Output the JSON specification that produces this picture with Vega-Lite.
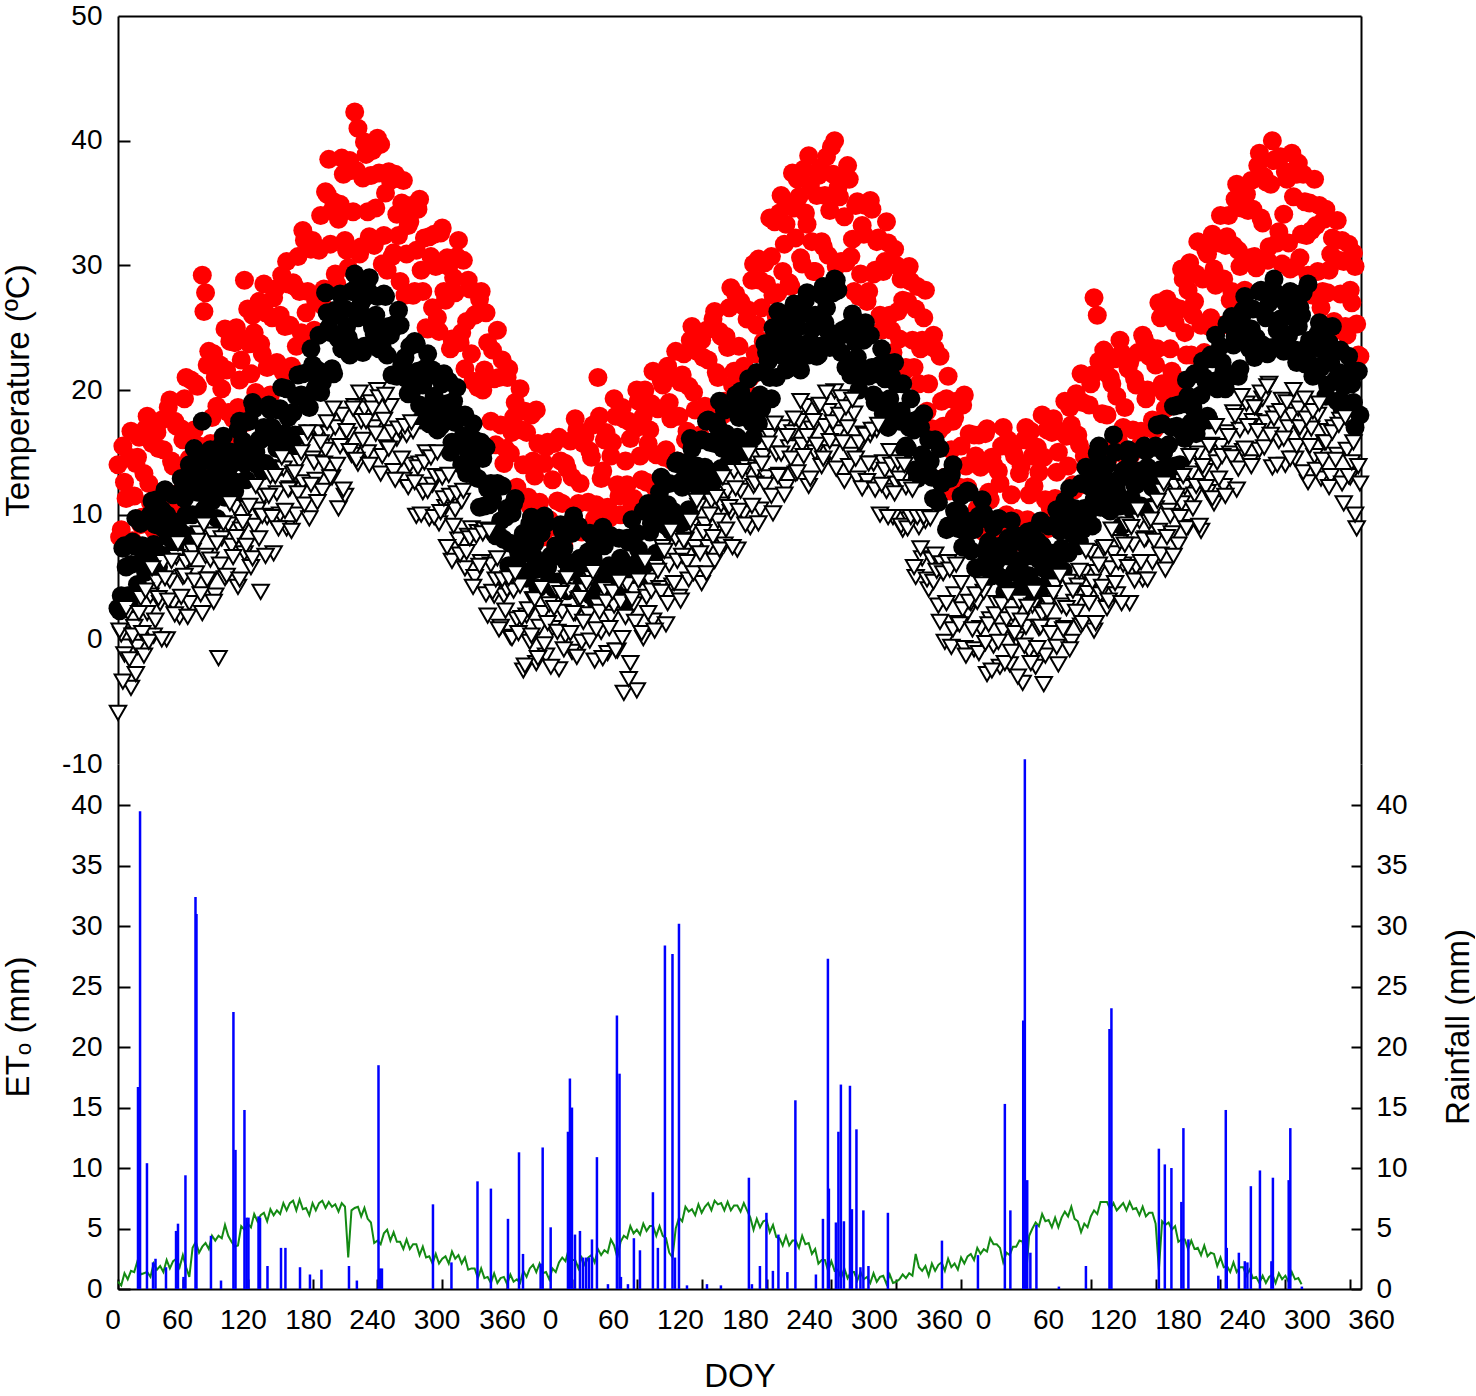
{
  "$schema": "https://vega.github.io/schema/vega-lite/v6.json",
  "padding": {"left": 2, "top": 2, "right": 0, "bottom": 0},
  "bounds": "flush",
  "spacing": 0,
  "config": {
    "view": {"stroke": null},
    "font": "Liberation Sans",
    "axis": {
      "grid": false,
      "domainColor": "black",
      "domainWidth": 2,
      "tickColor": "black",
      "tickWidth": 2,
      "labelColor": "black",
      "labelFont": "Liberation Sans",
      "labelFontSize": 28,
      "titleColor": "black",
      "titleFont": "Liberation Sans",
      "titleFontSize": 33,
      "titleFontWeight": "normal"
    }
  },
  "datasets": {
    "temp": [
      {"d":0,"x":14,"m":2.5,"n":-5.9,"e":0.6},{"d":3,"x":8.8,"m":3.5,"n":0.4,"e":0.3},{"d":6,"x":12.6,"m":7.5,"n":-1.2,"e":1.3},{"d":9,"x":7.9,"m":3.5,"n":2.2,"e":0.8},
      {"d":12,"x":16.7,"m":6,"n":-3.9,"e":1.5},{"d":15,"x":11.5,"m":7.5,"n":1,"e":1.4},{"d":18,"x":14.6,"m":4.4,"n":-0.6,"e":2.3},{"d":21,"x":9.2,"m":9.3,"n":3.3,"e":1.2},
      {"d":24,"x":13.3,"m":7.2,"n":-1.3,"e":1.3},{"d":27,"x":17.9,"m":6.6,"n":2.1,"e":1.4},{"d":30,"x":11,"m":10,"n":3.5,"e":1.0},{"d":33,"x":8.8,"m":7.6,"n":0.3,"e":2.1},
      {"d":36,"x":16.6,"m":11.2,"n":4.6,"e":1.6},{"d":39,"x":11.4,"m":6.8,"n":2.9,"e":1.9},{"d":42,"x":15.2,"m":8.9,"n":6.2,"e":1.4},{"d":45,"x":10.5,"m":10,"n":0,"e":2.4},
      {"d":48,"x":19.2,"m":6.8,"n":4.7,"e":1.7},{"d":51,"x":13.9,"m":11.6,"n":2.9,"e":2.3},{"d":54,"x":17.1,"m":9.4,"n":6.6,"e":2.5},{"d":57,"x":11.8,"m":8.7,"n":1.8,"e":1.8},
      {"d":60,"x":16,"m":12,"n":5,"e":2.8},{"d":63,"x":21,"m":10,"n":6.2,"e":1.8},{"d":66,"x":14.5,"m":14,"n":2.9,"e":1.0},{"d":69,"x":12.5,"m":10,"n":7.1,"e":3.4},
      {"d":72,"x":20.5,"m":12.5,"n":5.3,"e":3.9},{"d":75,"x":15.5,"m":14,"n":8.5,"e":3.0},{"d":78,"x":29.2,"m":17.5,"n":2.1,"e":3.5},{"d":81,"x":27.8,"m":14.8,"n":6.7,"e":3.8},
      {"d":84,"x":23.1,"m":12.2,"n":4.8,"e":3.3},{"d":87,"x":17.8,"m":11.1,"n":8.4,"e":4.4},{"d":90,"x":21,"m":14,"n":3.5,"e":4.0},{"d":93,"x":15.8,"m":11.8,"n":-1.5,"e":4.4},
      {"d":96,"x":20.1,"m":15.6,"n":8.1,"e":4.2},{"d":99,"x":24.9,"m":11.4,"n":4.9,"e":5.3},{"d":102,"x":18.2,"m":13.7,"n":9.2,"e":4.4},{"d":105,"x":16,"m":15,"n":7.5,"e":3.9},
      {"d":108,"x":23.8,"m":11.9,"n":10.6,"e":3.5},{"d":111,"x":18.6,"m":16.8,"n":4.2,"e":3.6},{"d":114,"x":22.4,"m":14.7,"n":8.8,"e":5.2},{"d":117,"x":28.8,"m":14.1,"n":6.9,"e":4.9},
      {"d":120,"x":26.5,"m":17.5,"n":10.5,"e":5.4},{"d":123,"x":21.3,"m":15,"n":5.8,"e":5.1},{"d":126,"x":24.6,"m":18.5,"n":9.1,"e":6.2},{"d":129,"x":19.4,"m":14,"n":10.4,"e":5.6},
      {"d":132,"x":23.7,"m":16,"n":3.8,"e":6.1},{"d":135,"x":28.5,"m":17,"n":11.5,"e":6.3},{"d":138,"x":21.8,"m":13.7,"n":9.8,"e":5.6},{"d":141,"x":19.6,"m":18.4,"n":13.1,"e":6.6},
      {"d":144,"x":27.4,"m":16.1,"n":6.9,"e":6.1},{"d":147,"x":22.2,"m":15.3,"n":11.7,"e":6.5},{"d":150,"x":26,"m":18.5,"n":10,"e":6.2},{"d":153,"x":21.4,"m":16.3,"n":13.7,"e":7.1},
      {"d":156,"x":30.3,"m":20.1,"n":8.9,"e":6.5},{"d":159,"x":25.2,"m":15.9,"n":12.1,"e":7.1},{"d":162,"x":28.6,"m":18.2,"n":13.3,"e":7.3},{"d":165,"x":23.5,"m":19.5,"n":10,"e":6.5},
      {"d":168,"x":27.9,"m":16.4,"n":14.3,"e":7.4},{"d":171,"x":32.8,"m":21.3,"n":12.6,"e":6.6},{"d":174,"x":26.2,"m":19.2,"n":15.9,"e":6.7},{"d":177,"x":24.1,"m":18.6,"n":9.7,"e":6.1},
      {"d":180,"x":32,"m":22,"n":14.5,"e":7.1},{"d":183,"x":27.1,"m":20.2,"n":12.8,"e":6.5},{"d":186,"x":31.2,"m":24.4,"n":16.6,"e":7.1},{"d":189,"x":26.8,"m":20.6,"n":11.9,"e":7.3},
      {"d":192,"x":35.9,"m":27.8,"n":15.2,"e":6.7},{"d":195,"x":38.5,"m":25,"n":16.5,"e":7.2},{"d":198,"x":34.4,"m":21.7,"n":13,"e":6.8},{"d":201,"x":29.3,"m":26.4,"n":17,"e":7.0},
      {"d":204,"x":33.7,"m":24.1,"n":10.5,"e":6.4},{"d":207,"x":38.6,"m":23.3,"n":18,"e":7.1},{"d":210,"x":32,"m":26.5,"n":11.5,"e":6.8},{"d":213,"x":29.8,"m":24.2,"n":16.4,"e":2.6},
      {"d":216,"x":37.6,"m":27.9,"n":14.8,"e":6.5},{"d":219,"x":42.3,"m":29.3,"n":18.7,"e":6.7},{"d":222,"x":41,"m":25.8,"n":14.1,"e":6.8},{"d":225,"x":31.5,"m":27,"n":17.5,"e":6.0},
      {"d":228,"x":39.9,"m":23.5,"n":18.5,"e":6.7},{"d":231,"x":34.3,"m":28,"n":15,"e":5.8},{"d":234,"x":37.2,"m":25.5,"n":19,"e":5.5},{"d":237,"x":31.6,"m":24.5,"n":17,"e":3.8},
      {"d":240,"x":40.2,"m":27.5,"n":20,"e":4.0},{"d":243,"x":39.7,"m":24.6,"n":13.3,"e":3.7},{"d":246,"x":32.4,"m":27.7,"n":17.6,"e":4.6},{"d":249,"x":29.6,"m":22.8,"n":15.4,"e":4.9},
      {"d":252,"x":36.8,"m":24.4,"n":18.7,"e":4.0},{"d":255,"x":31,"m":25,"n":13.5,"e":4.7},{"d":258,"x":34.1,"m":21.1,"n":16.1,"e":3.9},{"d":261,"x":28.7,"m":25.2,"n":16.7,"e":3.9},
      {"d":264,"x":36.8,"m":22.3,"n":12.8,"e":3.3},{"d":267,"x":30.9,"m":20.9,"n":16.4,"e":4.1},{"d":270,"x":33.5,"m":23.5,"n":14,"e":3.3},{"d":273,"x":27.6,"m":20.6,"n":16.7,"e":3.7},
      {"d":276,"x":31.2,"m":23.7,"n":9.9,"e":3.7},{"d":279,"x":35.3,"m":18.8,"n":14.1,"e":2.8},{"d":282,"x":27.9,"m":20.4,"n":11.8,"e":3.5},{"d":285,"x":25,"m":21,"n":15,"e":2.6},
      {"d":288,"x":32.3,"m":17.3,"n":9.7,"e":2.7},{"d":291,"x":26.6,"m":21.6,"n":12.4,"e":2.1},{"d":294,"x":29.9,"m":18.9,"n":13.1,"e":2.9},{"d":297,"x":24.7,"m":17.7,"n":9.3,"e":2.1},
      {"d":300,"x":33,"m":20.5,"n":13,"e":2.5},{"d":303,"x":27.2,"m":17.6,"n":10.6,"e":2.7},{"d":306,"x":29.9,"m":20.7,"n":13.2,"e":2.1},{"d":309,"x":24.1,"m":15.8,"n":6.3,"e":3.1},
      {"d":312,"x":27.8,"m":17.4,"n":10.4,"e":2.5},{"d":315,"x":32,"m":18,"n":8,"e":2.8},{"d":318,"x":24.6,"m":14,"n":11.1,"e":2.1},{"d":321,"x":21.7,"m":18,"n":5.7,"e":2.6},
      {"d":324,"x":28.8,"m":15,"n":8.3,"e":1.6},{"d":327,"x":22.9,"m":13.5,"n":8.9,"e":1.7},{"d":330,"x":26,"m":16,"n":5,"e":1.7},{"d":333,"x":20.2,"m":12.9,"n":8.6,"e":0.9},
      {"d":336,"x":27.9,"m":15.8,"n":6.2,"e":1.7},{"d":339,"x":21.6,"m":10.7,"n":8.8,"e":0.9},{"d":342,"x":23.8,"m":12.1,"n":1.9,"e":1.0},{"d":345,"x":17.5,"m":12.5,"n":6,"e":0.5},
      {"d":348,"x":20.9,"m":8.5,"n":3.5,"e":1.3},{"d":351,"x":24.8,"m":12.5,"n":6.5,"e":0.5},{"d":354,"x":17.2,"m":9.5,"n":1,"e":0.9},{"d":357,"x":14.1,"m":8,"n":3.5,"e":1.0},
      {"d":360,"x":21,"m":10.5,"n":4,"e":0.4},{"d":363,"x":14.9,"m":7.7,"n":0.2,"e":1.2},{"d":366,"x":17.8,"m":10.9,"n":3.9,"e":0.6},{"d":369,"x":12.2,"m":6.1,"n":1.6,"e":0.8},
      {"d":372,"x":20.1,"m":7.8,"n":4.3,"e":0.5},{"d":375,"x":14,"m":8.5,"n":-2.5,"e":1.5},{"d":378,"x":16.6,"m":4.9,"n":1.9,"e":1.0},{"d":381,"x":10.7,"m":9.3,"n":-0.2,"e":1.7},
      {"d":384,"x":14.3,"m":6.7,"n":3.2,"e":2.0},{"d":387,"x":18.4,"m":5.6,"n":-1.9,"e":1.4},{"d":390,"x":11,"m":8.5,"n":1,"e":2.1},{"d":393,"x":8.2,"m":5.9,"n":2.1,"e":1.3},
      {"d":396,"x":15.4,"m":9.3,"n":-1.3,"e":1.4},{"d":399,"x":9.6,"m":4.7,"n":2.8,"e":0.8},{"d":402,"x":12.8,"m":6.6,"n":0.9,"e":1.7},{"d":405,"x":7.5,"m":7.5,"n":4,"e":1.4},
      {"d":408,"x":16.2,"m":4.1,"n":-2.4,"e":2.2},{"d":411,"x":10.9,"m":8.7,"n":2.2,"e":2.6},{"d":414,"x":14.1,"m":6.3,"n":0.3,"e":2.3},{"d":417,"x":8.8,"m":5.4,"n":3.9,"e":3.3},
      {"d":420,"x":13,"m":8.5,"n":-1,"e":2.4},{"d":423,"x":17.7,"m":5.8,"n":2.1,"e":2.4},{"d":426,"x":10.9,"m":9.1,"n":3.2,"e":1.7},{"d":429,"x":8.6,"m":4.4,"n":-0.2,"e":2.6},
      {"d":432,"x":16.3,"m":6.2,"n":3.9,"e":2.0},{"d":435,"x":11,"m":7,"n":2,"e":2.6},{"d":438,"x":14.6,"m":3.5,"n":4.9,"e":2.8},{"d":441,"x":9.7,"m":8,"n":-1.7,"e":2.2},
      {"d":444,"x":21,"m":5.5,"n":2.7,"e":3.3},{"d":447,"x":12.9,"m":4.5,"n":0.6,"e":2.8},{"d":450,"x":16,"m":7.5,"n":4,"e":3.2},{"d":453,"x":10.6,"m":4.9,"n":-1.1,"e":3.0},
      {"d":456,"x":14.7,"m":8.3,"n":1.8,"e":4.1},{"d":459,"x":19.3,"m":3.7,"n":2.7,"e":3.6},{"d":462,"x":12.4,"m":5.6,"n":-0.9,"e":2.6},{"d":465,"x":10,"m":6.5,"n":3,"e":3.9},
      {"d":468,"x":17.7,"m":3.3,"n":-4.3,"e":4.4},{"d":471,"x":12.4,"m":8.1,"n":4.4,"e":4.2},{"d":474,"x":16.1,"m":5.9,"n":-1.9,"e":5.2},{"d":477,"x":11.3,"m":5.2,"n":2.8,"e":4.6},
      {"d":480,"x":20,"m":8.5,"n":-4.1,"e":4.9},{"d":483,"x":14.7,"m":6.4,"n":4.8,"e":4.5},{"d":486,"x":17.9,"m":10.3,"n":0.1,"e":5.4},{"d":489,"x":12.6,"m":6.2,"n":3.4,"e":4.8},
      {"d":492,"x":16.8,"m":8.6,"n":4.7,"e":5.2},{"d":495,"x":21.5,"m":10,"n":1.5,"e":5.2},{"d":498,"x":14.8,"m":6.9,"n":5.8,"e":4.4},{"d":501,"x":12.6,"m":11.8,"n":4.1,"e":5.2},
      {"d":504,"x":20.4,"m":9.7,"n":7.4,"e":4.4},{"d":507,"x":15.2,"m":9.1,"n":1.2,"e":4.2},{"d":510,"x":19,"m":12.5,"n":6,"e":3.0},{"d":513,"x":14.3,"m":10.3,"n":4.3,"e":2.6},
      {"d":516,"x":23.1,"m":14.1,"n":8.1,"e":5.0},{"d":519,"x":17.9,"m":9.9,"n":3.4,"e":5.9},{"d":522,"x":21.2,"m":12.2,"n":6.7,"e":5.6},{"d":525,"x":16,"m":13.5,"n":8,"e":6.8},
      {"d":528,"x":20.3,"m":10.4,"n":4.8,"e":6.4},{"d":531,"x":25.1,"m":15.3,"n":9.1,"e":6.6},{"d":534,"x":18.4,"m":13.2,"n":7.4,"e":6.1},{"d":537,"x":16.2,"m":12.6,"n":10.7,"e":7.0},
      {"d":540,"x":24,"m":16,"n":4.5,"e":6.3},{"d":543,"x":18.7,"m":13.8,"n":9.2,"e":6.8},{"d":546,"x":22.4,"m":17.6,"n":7.4,"e":7.1},{"d":549,"x":17.6,"m":13.4,"n":11.1,"e":6.5},
      {"d":552,"x":26.3,"m":15.7,"n":6.3,"e":7.3},{"d":555,"x":21,"m":17,"n":9.5,"e":7.0},{"d":558,"x":24.3,"m":13.7,"n":10.8,"e":7.1},{"d":561,"x":19.1,"m":18.4,"n":7.6,"e":6.5},
      {"d":564,"x":23.4,"m":16.1,"n":11.9,"e":7.2},{"d":567,"x":28.2,"m":15.3,"n":10.2,"e":6.5},{"d":570,"x":21.5,"m":18.5,"n":13.5,"e":6.9},{"d":573,"x":19.3,"m":16.2,"n":7.2,"e":6.9},
      {"d":576,"x":27.1,"m":19.9,"n":11.9,"e":6.4},{"d":579,"x":21.9,"m":15.6,"n":10.1,"e":7.1},{"d":582,"x":25.7,"m":17.8,"n":13.8,"e":6.5},{"d":585,"x":21,"m":19,"n":9,"e":5.9},
      {"d":588,"x":30.1,"m":16.2,"n":12.3,"e":4.9},{"d":591,"x":25.2,"m":21.4,"n":13.6,"e":5.8},{"d":594,"x":28.8,"m":19.6,"n":10.4,"e":5.1},{"d":597,"x":23.9,"m":19.3,"n":14.7,"e":5.6},
      {"d":600,"x":28.5,"m":23,"n":13,"e":5.7},{"d":603,"x":33.8,"m":21,"n":16.3,"e":4.7},{"d":606,"x":27.6,"m":25,"n":10.1,"e":5.3},{"d":609,"x":25.9,"m":21,"n":14.9,"e":4.3},
      {"d":612,"x":34.2,"m":23.5,"n":13.2,"e":4.2},{"d":615,"x":29.5,"m":25,"n":17,"e":3.6},{"d":618,"x":33.3,"m":21.6,"n":12.2,"e":4.4},{"d":621,"x":28.6,"m":26.2,"n":15.4,"e":3.6},
      {"d":624,"x":37.4,"m":23.8,"n":16.6,"e":4.0},{"d":627,"x":32.2,"m":22.9,"n":13.3,"e":4.0},{"d":630,"x":35.5,"m":26,"n":17.5,"e":3.4},{"d":633,"x":30.1,"m":23.6,"n":15.6,"e":4.4},
      {"d":636,"x":34.2,"m":27.2,"n":18.7,"e":3.7},{"d":639,"x":38.8,"m":22.8,"n":12.3,"e":3.8},{"d":642,"x":31.9,"m":24.9,"n":16.9,"e":2.9},{"d":645,"x":29.5,"m":26,"n":15,"e":3.3},
      {"d":648,"x":37.2,"m":22.8,"n":18.7,"e":2.1},{"d":651,"x":31.9,"m":27.6,"n":13.9,"e":2.4},{"d":654,"x":35.6,"m":25.4,"n":17.1,"e":2.4},{"d":657,"x":30.8,"m":24.7,"n":18.3,"e":1.5},
      {"d":660,"x":39.5,"m":28,"n":15,"e":2.3},{"d":663,"x":40,"m":28.9,"n":19.9,"e":1.5},{"d":666,"x":36.2,"m":28,"n":16.6,"e":1.6},{"d":669,"x":30.3,"m":23,"n":19.4,"e":0.9},
      {"d":672,"x":33.9,"m":24.5,"n":12.7,"e":1.7},{"d":675,"x":38,"m":25,"n":17,"e":0.9},{"d":678,"x":30.7,"m":21.2,"n":14.8,"e":1.4},{"d":681,"x":27.9,"m":25.4,"n":18.1,"e":1.4},
      {"d":684,"x":35.1,"m":22.6,"n":12.9,"e":0.7},{"d":687,"x":29.3,"m":21.3,"n":15.7,"e":1.4},{"d":690,"x":32.5,"m":24,"n":16.5,"e":0.8},{"d":693,"x":27.1,"m":21.2,"n":12.7,"e":1.0},
      {"d":696,"x":35.2,"m":24.4,"n":16.4,"e":0.5},{"d":699,"x":29.3,"m":19.6,"n":14.1,"e":1.3},{"d":702,"x":31.9,"m":21.3,"n":16.8,"e":0.6},{"d":705,"x":26,"m":22,"n":10,"e":1.0},
      {"d":708,"x":29.5,"m":18.1,"n":14.2,"e":1.1},{"d":711,"x":33.5,"m":22.2,"n":11.9,"e":0.4},{"d":714,"x":26,"m":19.3,"n":15.1,"e":1.2},{"d":717,"x":23,"m":17.9,"n":9.8,"e":0.5},
      {"d":720,"x":30,"m":20.5,"n":12.5,"e":0.6},{"d":723,"x":24.1,"m":17.5,"n":12.9,"e":0.8},{"d":726,"x":27.2,"m":20.5,"n":8.8,"e":1.2},{"d":729,"x":21.8,"m":15.5,"n":12.2,"e":0.9},
      {"d":732,"x":29.9,"m":17,"n":9.6,"e":1.3},{"d":735,"x":24,"m":17.5,"n":12,"e":1.1},{"d":738,"x":26.5,"m":13.6,"n":5,"e":2.9},{"d":741,"x":20.5,"m":17.7,"n":9,"e":1.8},
      {"d":744,"x":24,"m":14.8,"n":6.5,"e":1.5},{"d":747,"x":28,"m":13.4,"n":9.5,"e":1.9},{"d":750,"x":20.5,"m":16,"n":4,"e":1.1},{"d":753,"x":16.9,"m":13,"n":6.4,"e":2.1},
      {"d":756,"x":23.3,"m":16,"n":6.8,"e":1.5},{"d":759,"x":16.7,"m":11,"n":2.7,"e":2.0},{"d":762,"x":19.1,"m":12.5,"n":6.1,"e":2.2},{"d":765,"x":13,"m":13,"n":-0.2,"e":1.5},
      {"d":768,"x":21.1,"m":9.1,"n":6.2,"e":2.5},{"d":771,"x":15.2,"m":13.2,"n":-0.6,"e":1.8},{"d":774,"x":17.8,"m":10.3,"n":3.6,"e":2.1},{"d":777,"x":11.9,"m":8.9,"n":1.3,"e":1.6},
      {"d":780,"x":15.5,"m":11.5,"n":4.5,"e":2.6},{"d":783,"x":19.6,"m":8.7,"n":-0.7,"e":2.1},{"d":786,"x":12.2,"m":11.9,"n":2.1,"e":2.7},{"d":789,"x":9.3,"m":7.1,"n":2.9,"e":2.9},
      {"d":792,"x":16.4,"m":8.8,"n":-0.8,"e":2.4},{"d":795,"x":10.5,"m":9.5,"n":3,"e":3.4},{"d":798,"x":13.8,"m":5.8,"n":0.9,"e":2.9},{"d":801,"x":8.6,"m":10.1,"n":3.8,"e":3.3},
      {"d":804,"x":16.9,"m":7.4,"n":-2.8,"e":3.1},{"d":807,"x":11.2,"m":6.2,"n":1.6,"e":4.2},{"d":810,"x":14,"m":9,"n":-0.5,"e":3.7},{"d":813,"x":8.5,"m":6.3,"n":2.9,"e":3.7},
      {"d":816,"x":12.5,"m":9.6,"n":-2.2,"e":3.4},{"d":819,"x":17,"m":4.9,"n":0.7,"e":2.2},{"d":822,"x":10,"m":6.7,"n":1.6,"e":3.0},{"d":825,"x":7.5,"m":7.5,"n":-2,"e":2.8},
      {"d":828,"x":15.1,"m":3.9,"n":2,"e":3.5},{"d":831,"x":9.7,"m":8.3,"n":0,"e":3.5},{"d":834,"x":13.3,"m":5.7,"n":3,"e":4.0},{"d":837,"x":8.4,"m":4.6,"n":-3.5,"e":3.9},
      {"d":840,"x":17,"m":7.5,"n":1,"e":1.0},{"d":843,"x":11.6,"m":5.1,"n":-0.9,"e":4.4},{"d":846,"x":14.7,"m":8.7,"n":2.7,"e":5.0},{"d":849,"x":9.3,"m":4.3,"n":-2.2,"e":5.5},
      {"d":852,"x":13.4,"m":6.4,"n":0.9,"e":5.2},{"d":855,"x":18,"m":7.5,"n":2,"e":6.2},{"d":858,"x":11.2,"m":4.3,"n":-1.3,"e":5.6},{"d":861,"x":8.9,"m":9.1,"n":2.9,"e":5.7},
      {"d":864,"x":16.6,"m":6.9,"n":1.1,"e":5.1},{"d":867,"x":11.3,"m":6.2,"n":4.3,"e":5.9},{"d":870,"x":15,"m":9.5,"n":-2,"e":5.1},{"d":873,"x":10.3,"m":7.3,"n":2.7,"e":5.9},
      {"d":876,"x":19.1,"m":11.1,"n":0.9,"e":6.4},{"d":879,"x":13.9,"m":6.9,"n":4.6,"e":6.0},{"d":882,"x":17.2,"m":9.2,"n":-0.2,"e":6.8},{"d":885,"x":12,"m":10.5,"n":3,"e":5.8},
      {"d":888,"x":16.4,"m":7.5,"n":4.3,"e":5.6},{"d":891,"x":21.3,"m":12.5,"n":1.1,"e":4.7},{"d":894,"x":14.7,"m":10.5,"n":5.4,"e":5.4},{"d":897,"x":12.6,"m":10,"n":3.7,"e":5.1},
      {"d":900,"x":20.5,"m":13.5,"n":7,"e":6.0},{"d":903,"x":27.4,"m":11.2,"n":0.7,"e":6.5},{"d":906,"x":26,"m":14.9,"n":5.4,"e":6.2},{"d":909,"x":14.4,"m":10.6,"n":3.6,"e":7.2},
      {"d":912,"x":23.2,"m":12.8,"n":7.3,"e":7.2},{"d":915,"x":18,"m":14,"n":2.5,"e":7.2},{"d":918,"x":21,"m":10.3,"n":5.7,"e":6.6},{"d":921,"x":15.5,"m":16.4,"n":6.9,"e":7.1},
      {"d":924,"x":19.5,"m":11.9,"n":3.6,"e":6.5},{"d":927,"x":24,"m":10.7,"n":7.8,"e":6.8},{"d":930,"x":17,"m":13.5,"n":6,"e":7.1},{"d":933,"x":14.6,"m":11.1,"n":9.2,"e":6.5},
      {"d":936,"x":22.2,"m":14.7,"n":2.9,"e":7.2},{"d":939,"x":16.8,"m":10.3,"n":7.6,"e":6.6},{"d":942,"x":20.4,"m":12.4,"n":5.8,"e":6.7},{"d":945,"x":15.5,"m":13.5,"n":9.5,"e":6.1},
      {"d":948,"x":24.4,"m":10.3,"n":4.8,"e":6.8},{"d":951,"x":19.3,"m":15.1,"n":8.1,"e":6.0},{"d":954,"x":22.7,"m":12.9,"n":9.4,"e":6.3},{"d":957,"x":17.6,"m":12.2,"n":6.2,"e":6.3},
      {"d":960,"x":22,"m":15.5,"n":10.5,"e":5.4},{"d":963,"x":27,"m":13.4,"n":8.7,"e":1.6},{"d":966,"x":20.5,"m":17.3,"n":11.9,"e":5.6},{"d":969,"x":18.5,"m":13.2,"n":5.6,"e":5.3},
      {"d":972,"x":26.5,"m":15.6,"n":10.3,"e":5.5},{"d":975,"x":21.5,"m":17,"n":8.5,"e":4.9},{"d":978,"x":25.4,"m":13.9,"n":12.3,"e":5.2},{"d":981,"x":20.8,"m":18.8,"n":7.6,"e":3.9},
      {"d":984,"x":29.7,"m":16.7,"n":10.9,"e":4.1},{"d":987,"x":24.6,"m":16.1,"n":12.2,"e":4.1},{"d":990,"x":28,"m":19.5,"n":9,"e":3.3},{"d":993,"x":22.8,"m":17.4,"n":13.3,"e":4.0},
      {"d":996,"x":27.1,"m":21.3,"n":11.6,"e":3.3},{"d":999,"x":31.9,"m":17.2,"n":14.9,"e":3.4},{"d":1002,"x":25.2,"m":19.6,"n":8.7,"e":2.8},{"d":1005,"x":23,"m":21,"n":13.5,"e":3.6},
      {"d":1008,"x":30.9,"m":17.9,"n":11.8,"e":2.7},{"d":1011,"x":25.8,"m":22.8,"n":15.6,"e":3.0},{"d":1014,"x":29.7,"m":20.7,"n":10.9,"e":2.9},{"d":1017,"x":25.1,"m":20.1,"n":14.2,"e":1.9},
      {"d":1020,"x":34,"m":23.5,"n":15.5,"e":2.6},{"d":1023,"x":28.9,"m":21.4,"n":12.3,"e":1.8},{"d":1026,"x":32.3,"m":25.3,"n":16.6,"e":1.9},{"d":1029,"x":27.2,"m":21.2,"n":14.9,"e":1.4},
      {"d":1032,"x":31.6,"m":23.6,"n":18.2,"e":2.2},{"d":1035,"x":36.5,"m":25,"n":12,"e":1.4},{"d":1038,"x":29.9,"m":21.7,"n":16.8,"e":1.8},{"d":1041,"x":27.8,"m":26.4,"n":15.1,"e":1.8},
      {"d":1044,"x":35.7,"m":24.1,"n":18.9,"e":1.1},{"d":1047,"x":30.6,"m":23.3,"n":14.2,"e":1.6},{"d":1050,"x":34.5,"m":26.5,"n":17.5,"e":0.9},{"d":1053,"x":29.8,"m":24.2,"n":18.6,"e":1.0},
      {"d":1056,"x":39,"m":27.9,"n":15.2,"e":0.5},{"d":1059,"x":33.4,"m":23.6,"n":19.3,"e":1.1},{"d":1062,"x":36.7,"m":25.8,"n":17.4,"e":0.5},{"d":1065,"x":31.5,"m":27,"n":20.5,"e":1.0},
      {"d":1068,"x":40,"m":23.4,"n":13.8,"e":1.2},{"d":1071,"x":38.5,"m":27.8,"n":18.1,"e":0.5},{"d":1074,"x":32.7,"m":25.2,"n":15.9,"e":1.3},{"d":1077,"x":30.1,"m":24.1,"n":19.2,"e":0.8},
      {"d":1080,"x":37.5,"m":27,"n":14,"e":1.1},{"d":1083,"x":31.8,"m":24.4,"n":17,"e":0.6},{"d":1086,"x":39,"m":27.8,"n":18,"e":1.4},{"d":1089,"x":29.9,"m":23.2,"n":14.5,"e":0.8},
      {"d":1092,"x":38.2,"m":25.1,"n":18.5,"e":0.9},{"d":1095,"x":32.5,"m":26,"n":16.5,"e":0.4},{"d":1098,"x":35.1,"m":22.1,"n":19.3},{"d":1101,"x":29.2,"m":28.5,"n":12.6},
      {"d":1104,"x":32.8,"m":23.3,"n":16.9},{"d":1107,"x":36.9,"m":21.9,"n":14.7},{"d":1110,"x":29.5,"m":24.5,"n":18},{"d":1113,"x":26.6,"m":21.8,"n":12.9},
      {"d":1116,"x":33.7,"m":25.1,"n":15.8},{"d":1119,"x":27.8,"m":20.4,"n":16.7},{"d":1122,"x":30.9,"m":22.2,"n":13.1},{"d":1125,"x":25.5,"m":23,"n":17},
      {"d":1128,"x":33.6,"m":19.1,"n":14.8},{"d":1131,"x":27.7,"m":23.2,"n":17.6},{"d":1134,"x":30.3,"m":20.3,"n":10.9},{"d":1137,"x":24.4,"m":18.9,"n":15.2},
      {"d":1140,"x":28,"m":21.5,"n":13},{"d":1143,"x":31,"m":19,"n":15.8},{"d":1146,"x":25.3,"m":21.5,"n":8.9},{"d":1149,"x":22.7,"m":18,"n":12.5},
      {"d":1.5,"x":8.2,"m":2.3,"n":0.7},{"d":4.5,"x":15.5,"m":7.3,"n":-3.4},{"d":7.5,"x":11.3,"m":5.8,"n":2.5},{"d":10.5,"x":14.6,"m":2.8,"n":-1.6},
      {"d":13.5,"x":7.9,"m":7.8,"n":0.3},{"d":16.5,"x":14.1,"m":9.7,"n":-2.8},{"d":19.5,"x":16.2,"m":6.1,"n":2.1},{"d":22.5,"x":9.8,"m":7.5,"n":0.5},
      {"d":25.5,"x":16.9,"m":5.4,"n":3.9},{"d":28.5,"x":12.5,"m":6.3,"n":-0.2},{"d":31.5,"x":15.7,"m":11.1,"n":5.7},{"d":34.5,"x":9,"m":9.2,"n":1.5},
      {"d":37.5,"x":15.3,"m":5.8,"n":3.3},{"d":40.5,"x":17.6,"m":10.4,"n":0},{"d":43.5,"x":11.4,"m":12,"n":4.9},{"d":46.5,"x":18.6,"m":8.2,"n":3.1},
      {"d":49.5,"x":14.3,"m":9.5,"n":6.3},{"d":52.5,"x":17.5,"m":7.3,"n":2},{"d":55.5,"x":10.7,"m":8.1,"n":7.7},{"d":58.5,"x":16.9,"m":12.9,"n":3.4},
      {"d":61.5,"x":19.3,"m":11.3,"n":5.1},{"d":64.5,"x":13.3,"m":8.3,"n":1.8},{"d":67.5,"x":20.8,"m":13.3,"n":6.5},{"d":70.5,"x":16.8,"m":15.3,"n":4.7},
      {"d":73.5,"x":20.3,"m":11.8,"n":7.9},{"d":76.5,"x":13.6,"m":13,"n":3.6},{"d":79.5,"x":26.3,"m":10.4,"n":9.2},{"d":82.5,"x":22,"m":10.8,"n":4.8},
      {"d":85.5,"x":15.7,"m":15.2,"n":6.4},{"d":88.5,"x":22.9,"m":13.1,"n":3},{"d":91.5,"x":18.7,"m":9.7,"n":7.7},{"d":94.5,"x":22,"m":14.5,"n":6},
      {"d":97.5,"x":15.3,"m":16.3,"n":9.3},{"d":100.5,"x":21.6,"m":12.6,"n":5.1},{"d":103.5,"x":23.9,"m":13.9,"n":10.9},{"d":106.5,"x":17.7,"m":11.7,"n":6.6},
      {"d":109.5,"x":25,"m":12.6,"n":8.2},{"d":112.5,"x":20.8,"m":17.5,"n":4.8},{"d":115.5,"x":24.1,"m":15.9,"n":9.4},{"d":118.5,"x":17.4,"m":12.8,"n":7.5},
      {"d":121.5,"x":23.7,"m":17.5,"n":10.7},{"d":124.5,"x":26,"m":19,"n":6.5},{"d":127.5,"x":19.8,"m":15,"n":12.3},{"d":130.5,"x":27.1,"m":16,"n":8.1},
      {"d":133.5,"x":22.9,"m":13.5,"n":9.9},{"d":136.5,"x":26.2,"m":14.1,"n":6.7},{"d":139.5,"x":19.5,"m":18.8,"n":11.5},{"d":142.5,"x":25.8,"m":17,"n":9.8},
      {"d":145.5,"x":28.1,"m":13.7,"n":13.1},{"d":148.5,"x":21.9,"m":18.4,"n":8.9},{"d":151.5,"x":29.2,"m":20.2,"n":14.6},{"d":154.5,"x":25.1,"m":16.5,"n":10.3},
      {"d":157.5,"x":28.5,"m":17.8,"n":12},{"d":160.5,"x":21.9,"m":15.6,"n":8.7},{"d":163.5,"x":28.3,"m":16.4,"n":13.4},{"d":166.5,"x":30.7,"m":21.2,"n":11.7},
      {"d":169.5,"x":24.6,"m":19.6,"n":15},{"d":172.5,"x":32,"m":16.5,"n":10.8},{"d":175.5,"x":27.9,"m":21.4,"n":16.6},{"d":178.5,"x":31.3,"m":23.3,"n":12.4},
      {"d":181.5,"x":24.8,"m":19.9,"n":14.2},{"d":184.5,"x":31.4,"m":21.6,"n":11},{"d":187.5,"x":34,"m":19.8,"n":15.8},{"d":190.5,"x":28.1,"m":21,"n":14.1},
      {"d":193.5,"x":35.7,"m":26.2,"n":17.4},{"d":196.5,"x":31.7,"m":24.6,"n":13},{"d":199.5,"x":35.1,"m":21.3,"n":18.5},{"d":202.5,"x":28.5,"m":26,"n":14},
      {"d":205.5,"x":34.9,"m":27.7,"n":15.5},{"d":208.5,"x":37.3,"m":23.9,"n":12},{"d":211.5,"x":31.2,"m":25.1,"n":16.7},{"d":214.5,"x":38.4,"m":22.8,"n":15.1},
      {"d":217.5,"x":34.3,"m":23.5,"n":18.5},{"d":220.5,"x":37.6,"m":28.2,"n":14.4},{"d":223.5,"x":30.9,"m":26.4,"n":19.8},{"d":226.5,"x":37,"m":23,"n":16},
      {"d":229.5,"x":38.9,"m":27.5,"n":17.5},{"d":232.5,"x":32.3,"m":29,"n":14},{"d":235.5,"x":39.2,"m":25,"n":18.5},{"d":238.5,"x":34.6,"m":26,"n":16.5},
      {"d":241.5,"x":37.4,"m":23.3,"n":19.4},{"d":244.5,"x":30.1,"m":23.4,"n":14.7},{"d":247.5,"x":35.8,"m":27.5,"n":19.6},{"d":250.5,"x":37.5,"m":25.1,"n":15.3},
      {"d":253.5,"x":30.7,"m":21.2,"n":16.6},{"d":256.5,"x":37.3,"m":25.3,"n":12.8},{"d":259.5,"x":32.4,"m":26.4,"n":16.9},{"d":262.5,"x":35,"m":22,"n":14.5},
      {"d":265.5,"x":27.6,"m":22.6,"n":17.1},{"d":268.5,"x":33.2,"m":19.7,"n":12.2},{"d":271.5,"x":34.8,"m":19.8,"n":17.4},{"d":274.5,"x":27.9,"m":23.9,"n":12.6},
      {"d":277.5,"x":34.5,"m":21.5,"n":13.8},{"d":280.5,"x":29.6,"m":17.6,"n":10},{"d":283.5,"x":32.2,"m":21.7,"n":14.2},{"d":286.5,"x":24.9,"m":22.9,"n":11.9},
      {"d":289.5,"x":30.7,"m":18.7,"n":14.6},{"d":292.5,"x":32.5,"m":19.5,"n":9.8},{"d":295.5,"x":25.8,"m":16.8,"n":15},{"d":298.5,"x":32.6,"m":17.1,"n":10.2},
      {"d":301.5,"x":27.9,"m":21.3,"n":11.3},{"d":304.5,"x":30.6,"m":18.9,"n":7.4},{"d":307.5,"x":23.3,"m":15,"n":11.5},{"d":310.5,"x":29,"m":19.1,"n":9.1},
      {"d":313.5,"x":30.7,"m":20.2,"n":11.7},{"d":316.5,"x":23.8,"m":15.8,"n":6.8},{"d":319.5,"x":30.4,"m":16.3,"n":11.9},{"d":322.5,"x":25.5,"m":13.3,"n":7},
      {"d":325.5,"x":28.1,"m":13.3,"n":8.1},{"d":328.5,"x":20.7,"m":17.3,"n":4.2},{"d":331.5,"x":26.1,"m":14.7,"n":8.3},{"d":334.5,"x":27.3,"m":10.6,"n":5.9},
      {"d":337.5,"x":20,"m":14.5,"n":8.5},{"d":340.5,"x":26.2,"m":15.4,"n":3.6},{"d":343.5,"x":20.9,"m":10.8,"n":8.7},{"d":346.5,"x":23.2,"m":11.3,"n":3.8},
      {"d":349.5,"x":15.6,"m":8.3,"n":4.8},{"d":352.5,"x":21,"m":8.3,"n":0.8},{"d":355.5,"x":22.4,"m":12.3,"n":4.8},{"d":358.5,"x":15.3,"m":9.8,"n":2.3},
      {"d":361.5,"x":21.7,"m":5.9,"n":4.9},{"d":364.5,"x":16.6,"m":10.1,"n":0.1},{"d":367.5,"x":19,"m":11.3,"n":5.3},{"d":370.5,"x":11.4,"m":7,"n":0.5},
      {"d":373.5,"x":16.8,"m":7.7,"n":1.7},{"d":376.5,"x":18.3,"m":5,"n":-2.1},{"d":379.5,"x":11.4,"m":5.4,"n":2.4},{"d":382.5,"x":18,"m":9.8,"n":0.3},
      {"d":385.5,"x":13.1,"m":7.7,"n":3.2},{"d":388.5,"x":15.7,"m":4.1,"n":-1.5},{"d":391.5,"x":8.4,"m":8.5,"n":4.1},{"d":394.5,"x":14.1,"m":9.9,"n":-0.4},
      {"d":397.5,"x":15.8,"m":5.8,"n":1.3},{"d":400.5,"x":9,"m":6.7,"n":-2.2},{"d":403.5,"x":15.7,"m":4.1,"n":2.5},{"d":406.5,"x":11.1,"m":4.6,"n":0.6},
      {"d":409.5,"x":14.3,"m":9.2,"n":3.7},{"d":412.5,"x":7.5,"m":7.3,"n":-0.8},{"d":415.5,"x":13.7,"m":3.9,"n":4.9},{"d":418.5,"x":15.9,"m":8.5,"n":0.5},
      {"d":421.5,"x":9.6,"m":9.9,"n":2.1},{"d":424.5,"x":16.8,"m":5.7,"n":-1.4},{"d":427.5,"x":12.5,"m":6.5,"n":3.3},{"d":430.5,"x":15.7,"m":3.8,"n":1.4},
      {"d":433.5,"x":8.9,"m":4.1,"n":4.5},{"d":436.5,"x":15.1,"m":8.5,"n":-0.1},{"d":439.5,"x":17.2,"m":6.5,"n":5.4},{"d":442.5,"x":10.8,"m":3,"n":0.8},
      {"d":445.5,"x":17.9,"m":7.5,"n":2.2},{"d":448.5,"x":13.5,"m":9,"n":-1.5},{"d":451.5,"x":16.6,"m":5,"n":3},{"d":454.5,"x":9.7,"m":5.9,"n":0.9},
      {"d":457.5,"x":15.8,"m":3.3,"n":3.8},{"d":460.5,"x":17.9,"m":3.7,"n":-0.9},{"d":463.5,"x":11.5,"m":8.1,"n":4.6},{"d":466.5,"x":18.6,"m":6.2,"n":0.1},
      {"d":469.5,"x":14.3,"m":3,"n":1.8},{"d":472.5,"x":17.5,"m":7.8,"n":-3.2},{"d":475.5,"x":10.7,"m":9.6,"n":3.2},{"d":478.5,"x":16.9,"m":5.9,"n":1.4},
      {"d":481.5,"x":19.1,"m":7.2,"n":4.7},{"d":484.5,"x":12.8,"m":5.1,"n":0.5},{"d":487.5,"x":20,"m":6,"n":6.3},{"d":490.5,"x":15.7,"m":10.9,"n":2.1},
      {"d":493.5,"x":18.9,"m":9.3,"n":3.9},{"d":496.5,"x":12.2,"m":6.2,"n":0.7},{"d":499.5,"x":18.5,"m":11.1,"n":5.5},{"d":502.5,"x":20.8,"m":13,"n":3.8},
      {"d":505.5,"x":14.6,"m":9.4,"n":7.1},{"d":508.5,"x":21.9,"m":10.8,"n":2.9},{"d":511.5,"x":17.7,"m":8.7,"n":8.7},{"d":514.5,"x":21,"m":9.5,"n":4.5},
      {"d":517.5,"x":14.3,"m":14.3,"n":6.3},{"d":520.5,"x":20.6,"m":12.6,"n":3.1},{"d":523.5,"x":22.9,"m":9.4,"n":7.9},{"d":526.5,"x":16.7,"m":14.2,"n":6.2},
      {"d":529.5,"x":24,"m":16.1,"n":9.5},{"d":532.5,"x":19.8,"m":12.5,"n":5.3},{"d":535.5,"x":23.1,"m":13.9,"n":11.1},{"d":538.5,"x":16.4,"m":11.8,"n":6.9},
      {"d":541.5,"x":22.6,"m":12.7,"n":8.6},{"d":544.5,"x":24.8,"m":17.5,"n":5.3},{"d":547.5,"x":18.5,"m":15.8,"n":10},{"d":550.5,"x":25.7,"m":12.6,"n":8.2},
      {"d":553.5,"x":21.4,"m":17.4,"n":11.4},{"d":556.5,"x":24.7,"m":19.1,"n":7.2},{"d":559.5,"x":18,"m":15.3,"n":13},{"d":562.5,"x":24.3,"m":16.5,"n":8.8},
      {"d":565.5,"x":26.6,"m":14.2,"n":10.6},{"d":568.5,"x":20.4,"m":14.9,"n":7.4},{"d":571.5,"x":27.7,"m":19.6,"n":12.1},{"d":574.5,"x":23.5,"m":17.8,"n":10.3},
      {"d":577.5,"x":26.8,"m":14.5,"n":13.5},{"d":580.5,"x":20.1,"m":19.2,"n":9.2},{"d":583.5,"x":26.4,"m":20.9,"n":14.9},{"d":586.5,"x":28.8,"m":17.4,"n":10.7},
      {"d":589.5,"x":22.9,"m":19.1,"n":12.5},{"d":592.5,"x":30.5,"m":17.3,"n":9.3},{"d":595.5,"x":26.6,"m":18.5,"n":14.1},{"d":598.5,"x":30.2,"m":23.7,"n":12.4},
      {"d":601.5,"x":23.9,"m":22.3,"n":15.7},{"d":604.5,"x":30.7,"m":19.3,"n":11.5},{"d":607.5,"x":33.5,"m":24.3,"n":17.3},{"d":610.5,"x":27.8,"m":26.3,"n":13.1},
      {"d":613.5,"x":35.6,"m":22.8,"n":14.9},{"d":616.5,"x":31.7,"m":24.1,"n":11.6},{"d":619.5,"x":35,"m":21.7,"n":16.3},{"d":622.5,"x":28.3,"m":22.3,"n":14.5},
      {"d":625.5,"x":34.6,"m":26.9,"n":17.7},{"d":628.5,"x":36.9,"m":25,"n":13.4},{"d":631.5,"x":30.6,"m":21.6,"n":19.1},{"d":634.5,"x":37.7,"m":26.2,"n":14.7},
      {"d":637.5,"x":33.3,"m":27.8,"n":16.3},{"d":640.5,"x":36.4,"m":23.9,"n":12.9},{"d":643.5,"x":29.5,"m":25,"n":17.5},{"d":646.5,"x":35.6,"m":22.7,"n":15.6},
      {"d":649.5,"x":37.8,"m":23.5,"n":18.8},{"d":652.5,"x":31.5,"m":28.3,"n":14.5},{"d":655.5,"x":38.7,"m":26.6,"n":19.8},{"d":658.5,"x":34.4,"m":23.4,"n":15.9},
      {"d":661.5,"x":37.3,"m":27.8,"n":17.4},{"d":664.5,"x":29.9,"m":28.8,"n":13.7},{"d":667.5,"x":35.5,"m":24.3,"n":18},{"d":670.5,"x":37.1,"m":24.8,"n":15.8},
      {"d":673.5,"x":30.2,"m":21.8,"n":18.6},{"d":676.5,"x":36.9,"m":21.9,"n":13.9},{"d":679.5,"x":32.1,"m":26.1,"n":19.2},{"d":682.5,"x":34.8,"m":23.8,"n":14.5},
      {"d":685.5,"x":27.5,"m":20,"n":15.8},{"d":688.5,"x":33.2,"m":24.2,"n":12.1},{"d":691.5,"x":34.8,"m":25.4,"n":16.4},{"d":694.5,"x":27.9,"m":21.1,"n":14.1},
      {"d":697.5,"x":34.5,"m":21.8,"n":16.8},{"d":700.5,"x":29.6,"m":19,"n":12},{"d":703.5,"x":32.2,"m":19.2,"n":17.2},{"d":706.5,"x":24.8,"m":23.3,"n":12.4},
      {"d":709.5,"x":30.3,"m":20.9,"n":13.6},{"d":712.5,"x":31.8,"m":17,"n":9.8},{"d":715.5,"x":24.8,"m":21.1,"n":14},{"d":718.5,"x":31.3,"m":22.2,"n":11.7},
      {"d":721.5,"x":26.3,"m":17.8,"n":14.2},{"d":724.5,"x":28.9,"m":18.3,"n":9.1},{"d":727.5,"x":21.5,"m":15.3,"n":14},{"d":730.5,"x":27.1,"m":15.3,"n":8.9},
      {"d":733.5,"x":28.7,"m":19.3,"n":9.8},{"d":736.5,"x":21.8,"m":16.8,"n":5.8},{"d":739.5,"x":28.3,"m":12.9,"n":9.8},{"d":742.5,"x":23.3,"m":17,"n":7.3},
      {"d":745.5,"x":25.8,"m":18.1,"n":9.8},{"d":748.5,"x":18.3,"m":13.7,"n":4.8},{"d":751.5,"x":23.5,"m":14.3,"n":9.7},{"d":754.5,"x":24.4,"m":11.3,"n":4.6},
      {"d":757.5,"x":16.8,"m":11.3,"n":5.5},{"d":760.5,"x":22.7,"m":15.3,"n":1.4},{"d":763.5,"x":17.1,"m":12.8,"n":5.3},{"d":766.5,"x":19.3,"m":8.8,"n":2.9},
      {"d":769.5,"x":11.9,"m":12.9,"n":5.6},{"d":772.5,"x":17.5,"m":14,"n":0.8},{"d":775.5,"x":19.1,"m":9.6,"n":6},{"d":778.5,"x":12.2,"m":10.2,"n":1.2},
      {"d":781.5,"x":18.8,"m":7.4,"n":2.4},{"d":784.5,"x":13.9,"m":7.6,"n":-1.3},{"d":787.5,"x":16.5,"m":11.8,"n":3},{"d":790.5,"x":9.1,"m":9.5,"n":0.8},
      {"d":793.5,"x":14.7,"m":5.7,"n":3.6},{"d":796.5,"x":16.4,"m":9.9,"n":-1.1},{"d":799.5,"x":9.7,"m":11.2,"n":4.4},{"d":802.5,"x":16.5,"m":7,"n":-0.3},
      {"d":805.5,"x":11.8,"m":7.8,"n":1.2},{"d":808.5,"x":14.6,"m":5.1,"n":-2.5},{"d":811.5,"x":7.5,"m":5.4,"n":2},{"d":814.5,"x":13.5,"m":9.7,"n":-0.2},
      {"d":817.5,"x":15.5,"m":7.5,"n":2.8},{"d":820.5,"x":9,"m":3.8,"n":-1.9},{"d":823.5,"x":16,"m":8.1,"n":3.6},{"d":826.5,"x":11.6,"m":9.5,"n":-1},
      {"d":829.5,"x":14.7,"m":5.4,"n":0.5},{"d":832.5,"x":7.8,"m":6.3,"n":-3},{"d":835.5,"x":13.9,"m":3.7,"n":1.5},{"d":838.5,"x":16,"m":4.1,"n":-0.5},
      {"d":841.5,"x":9.6,"m":8.6,"n":2.6},{"d":844.5,"x":16.7,"m":6.7,"n":-1.9},{"d":847.5,"x":12.3,"m":3.3,"n":3.8},{"d":850.5,"x":15.4,"m":7.9,"n":-0.7},
      {"d":853.5,"x":8.5,"m":9.5,"n":1},{"d":856.5,"x":14.6,"m":5.7,"n":-3.6},{"d":859.5,"x":16.8,"m":7,"n":2.3},{"d":862.5,"x":10.5,"m":4.8,"n":0.5},
      {"d":865.5,"x":17.7,"m":5.6,"n":3.7},{"d":868.5,"x":13.4,"m":10.4,"n":-0.6},{"d":871.5,"x":16.7,"m":8.7,"n":5.1},{"d":874.5,"x":10,"m":5.5,"n":0.8},
      {"d":877.5,"x":16.3,"m":10.3,"n":2.5},{"d":880.5,"x":18.6,"m":12.1,"n":-0.8},{"d":883.5,"x":12.4,"m":8.4,"n":3.9},{"d":886.5,"x":19.7,"m":9.8,"n":2.2},
      {"d":889.5,"x":15.6,"m":7.8,"n":5.5},{"d":892.5,"x":19,"m":8.8,"n":1.3},{"d":895.5,"x":12.4,"m":13.8,"n":7.1},{"d":898.5,"x":18.8,"m":12.3,"n":2.9},
      {"d":901.5,"x":21.2,"m":9.1,"n":4.6},{"d":904.5,"x":15,"m":13.8,"n":1.3},{"d":907.5,"x":22.3,"m":15.5,"n":6},{"d":910.5,"x":18.1,"m":11.7,"n":4.2},
      {"d":913.5,"x":21.4,"m":12.9,"n":7.4},{"d":916.5,"x":14.5,"m":10.4,"n":3.1},{"d":919.5,"x":20.5,"m":10.7,"n":8.8},{"d":922.5,"x":22.5,"m":15,"n":4.5},
      {"d":925.5,"x":16,"m":12.8,"n":6.2},{"d":928.5,"x":23,"m":9.1,"n":2.9},{"d":931.5,"x":18.6,"m":13.6,"n":7.6},{"d":934.5,"x":21.7,"m":15.2,"n":5.8},
      {"d":937.5,"x":14.8,"m":11.3,"n":9},{"d":940.5,"x":20.9,"m":12.4,"n":4.7},{"d":943.5,"x":23,"m":10,"n":10.4},{"d":946.5,"x":16.7,"m":10.7,"n":6.2},
      {"d":949.5,"x":24.1,"m":15.5,"n":8},{"d":952.5,"x":20,"m":13.8,"n":4.8},{"d":955.5,"x":23.4,"m":10.6,"n":9.6},{"d":958.5,"x":16.8,"m":15.4,"n":7.9},
      {"d":961.5,"x":23.3,"m":17.2,"n":11.1},{"d":964.5,"x":25.8,"m":13.6,"n":6.8},{"d":967.5,"x":19.8,"m":15,"n":12.5},{"d":970.5,"x":27.3,"m":12.9,"n":8.2},
      {"d":973.5,"x":23.3,"m":13.8,"n":9.9},{"d":976.5,"x":26.7,"m":18.7,"n":6.7},{"d":979.5,"x":20.1,"m":17.1,"n":11.5},{"d":982.5,"x":26.5,"m":14,"n":9.8},
      {"d":985.5,"x":28.9,"m":18.9,"n":13.1},{"d":988.5,"x":22.8,"m":20.8,"n":8.9},{"d":991.5,"x":30.2,"m":17.2,"n":14.7},{"d":994.5,"x":26,"m":18.6,"n":10.5},
      {"d":997.5,"x":29.3,"m":16.5,"n":12.3},{"d":1000.5,"x":22.6,"m":17.4,"n":9.1},{"d":1003.5,"x":28.9,"m":22.3,"n":13.9},{"d":1006.5,"x":31.2,"m":20.7,"n":12.2},
      {"d":1009.5,"x":25.1,"m":17.6,"n":15.5},{"d":1012.5,"x":32.5,"m":22.5,"n":11.3},{"d":1015.5,"x":28.4,"m":24.4,"n":17.1},{"d":1018.5,"x":31.8,"m":20.8,"n":12.9},
      {"d":1021.5,"x":25.2,"m":22.2,"n":14.7},{"d":1024.5,"x":31.6,"m":20.1,"n":11.5},{"d":1027.5,"x":34,"m":21,"n":16.3},{"d":1030.5,"x":27.9,"m":25.9,"n":14.6},
      {"d":1033.5,"x":35.3,"m":24.3,"n":17.9},{"d":1036.5,"x":31.2,"m":21.1,"n":13.7},{"d":1039.5,"x":34.6,"m":25.8,"n":19.5},{"d":1042.5,"x":28,"m":27.5,"n":15.3},
      {"d":1045.5,"x":34.4,"m":23.7,"n":17.1},{"d":1048.5,"x":36.8,"m":24.9,"n":13.9},{"d":1051.5,"x":30.7,"m":22.6,"n":18.6},{"d":1054.5,"x":38,"m":23.3,"n":16.7},
      {"d":1057.5,"x":33.8,"m":28,"n":19.8},{"d":1060.5,"x":37.1,"m":26.2,"n":15.4},{"d":1063.5,"x":30.4,"m":22.9,"n":20.3},{"d":1066.5,"x":36.5,"m":27.5,"n":16.4},
      {"d":1069.5,"x":38.4,"m":28.9,"n":17.7},{"d":1072.5,"x":31.8,"m":24.8,"n":14},{"d":1075.5,"x":38.7,"m":25.7,"n":18.3},{"d":1078.5,"x":34.1,"m":23.1,"n":16.1},
      {"d":1081.5,"x":36.9,"m":23.5,"n":19},{"d":1084.5,"x":29.7,"m":27.9,"n":14.5},{"d":1087.5,"x":35.5,"m":25.8,"n":20},{"d":1090.5,"x":37.3,"m":22.2,"n":15.5},
      {"d":1093.5,"x":30.6,"m":26.6,"n":17},{"d":1096.5,"x":37.3,"m":27.8,"n":13.4},{"d":1099.5,"x":32.4,"m":23.4,"n":17.7},{"d":1102.5,"x":35,"m":24,"n":15.5},
      {"d":1105.5,"x":27.6,"m":21.1,"n":18.3},{"d":1108.5,"x":33.2,"m":21.2,"n":13.6},{"d":1111.5,"x":34.8,"m":25.4,"n":18.9},{"d":1114.5,"x":27.9,"m":23.2,"n":14.4},
      {"d":1117.5,"x":34.5,"m":19.5,"n":15.8},{"d":1120.5,"x":29.6,"m":23.8,"n":12.2},{"d":1123.5,"x":32.2,"m":25.1,"n":16.6},{"d":1126.5,"x":24.8,"m":20.8,"n":14.4},
      {"d":1129.5,"x":30.4,"m":21.4,"n":17.2},{"d":1132.5,"x":32,"m":18.5,"n":12.5},{"d":1135.5,"x":25.1,"m":18.6,"n":17.8},{"d":1138.5,"x":31.7,"m":22.7,"n":13.1},
      {"d":1141.5,"x":27,"m":20.5,"n":14.2},{"d":1144.5,"x":29.9,"m":17,"n":10},{"d":1147.5,"x":22.8,"m":21.5,"n":13.9}
    ],
    "rain": [
      {"d":18.5,"r":16.7},{"d":20.4,"r":39.5},{"d":26.8,"r":10.4},{"d":32.4,"r":2.2},{"d":34.7,"r":2.5},{"d":44.4,"r":1.8},{"d":53.7,"r":4.8},{"d":55.5,"r":5.4},
      {"d":60.6,"r":1.0},{"d":62.4,"r":9.4},{"d":71.7,"r":32.4},{"d":72.6,"r":31.0},{"d":86,"r":4.4},{"d":95.3,"r":0.7},{"d":106.8,"r":22.9},{"d":108.7,"r":11.5},
      {"d":117,"r":14.8},{"d":118.9,"r":5.9},{"d":120.7,"r":5.9},{"d":130,"r":6.0},{"d":131.4,"r":5.9},{"d":138.3,"r":1.9},{"d":150.8,"r":3.4},{"d":154.9,"r":3.4},
      {"d":168.4,"r":1.8},{"d":177.6,"r":1.2},{"d":188.2,"r":1.6},{"d":213.7,"r":1.9},{"d":221,"r":0.7},{"d":241,"r":18.5},{"d":242.4,"r":1.7},{"d":244.2,"r":1.7},
      {"d":291.4,"r":7.0},{"d":308.5,"r":2.2},{"d":332.6,"r":8.9},{"d":345,"r":8.3},{"d":360.8,"r":5.8},{"d":371,"r":11.3},{"d":374.7,"r":2.9},{"d":391,"r":2.1},
      {"d":392.9,"r":11.7},{"d":400.3,"r":5.1},{"d":416.3,"r":13.0},{"d":418.1,"r":17.4},{"d":420,"r":15.0},{"d":422.8,"r":4.5},{"d":427.4,"r":4.8},{"d":430.2,"r":2.6},
      {"d":433,"r":2.6},{"d":435.7,"r":2.6},{"d":438.5,"r":4.1},{"d":443.1,"r":10.9},{"d":453.3,"r":0.4},{"d":461.6,"r":22.6},{"d":464,"r":17.8},{"d":465.3,"r":1.0},
      {"d":471.8,"r":0.4},{"d":477.3,"r":4.2},{"d":482.9,"r":3.2},{"d":494.9,"r":8.0},{"d":499.5,"r":3.4},{"d":506,"r":28.4},{"d":513,"r":27.7},{"d":515.3,"r":2.6},
      {"d":519,"r":30.2},{"d":526.4,"r":0.3},{"d":544.9,"r":0.4},{"d":557.8,"r":0.3},{"d":583.7,"r":9.2},{"d":586.5,"r":0.4},{"d":593.9,"r":1.9},{"d":599.9,"r":6.3},
      {"d":605.9,"r":1.5},{"d":611,"r":4.5},{"d":619.3,"r":1.4},{"d":626.7,"r":15.6},{"d":645.7,"r":1.2},{"d":652.2,"r":5.8},{"d":656.8,"r":27.3},{"d":657.7,"r":8.3},
      {"d":664.2,"r":5.5},{"d":666.5,"r":13.0},{"d":668.8,"r":16.9},{"d":671.6,"r":5.6},{"d":677.2,"r":16.8},{"d":679,"r":6.6},{"d":683.2,"r":13.2},{"d":686.9,"r":1.8},
      {"d":689.6,"r":6.5},{"d":694.3,"r":1.9},{"d":712.3,"r":6.3},{"d":762.3,"r":4.0},{"d":795.6,"r":2.8},{"d":820.5,"r":15.3},{"d":825.6,"r":6.5},{"d":837.5,"r":22.2},
      {"d":839,"r":43.8},{"d":841.2,"r":9.0},{"d":844.1,"r":3.0},{"d":849.7,"r":5.3},{"d":870.5,"r":0.2},{"d":895.5,"r":1.9},{"d":917.3,"r":21.5},{"d":919.1,"r":23.2},
      {"d":963,"r":11.6},{"d":968.5,"r":10.3},{"d":974.6,"r":10.0},{"d":983.8,"r":7.2},{"d":985.7,"r":13.3},{"d":990.3,"r":4.1},{"d":1018,"r":1.1},{"d":1024.9,"r":14.8},
      {"d":1025.8,"r":3.4},{"d":1037,"r":3.0},{"d":1042.5,"r":2.3},{"d":1044.9,"r":2.2},{"d":1048.1,"r":8.5},{"d":1056.5,"r":9.8},{"d":1067.1,"r":2.3},{"d":1068.5,"r":9.2},
      {"d":1083.1,"r":9.0},{"d":1084.6,"r":13.3},{"d":1095.3,"r":0.2}
    ]
  },
  "vconcat": [
    {
      "width": 1243,
      "height": 748,
      "data": {"name": "temp"},
      "encoding": {
        "x": {
          "field": "d",
          "type": "quantitative",
          "scale": {"domain": [0, 1150], "nice": false, "zero": false},
          "axis": {"orient": "top", "labels": false, "ticks": false, "title": null}
        }
      },
      "layer": [
        {
          "mark": {"type": "point", "shape": "circle", "filled": true, "size": 361, "color": "#ff0000", "opacity": 1},
          "encoding": {
            "y": {
              "field": "x",
              "type": "quantitative",
              "scale": {"domain": [-10, 50], "nice": false, "zero": false},
              "axis": {
                "orient": "left",
                "values": [-10, 0, 10, 20, 30, 40, 50],
                "labelExpr": "datum.value < 0 ? '-' + abs(datum.value) : datum.label",
                "tickSize": -12,
                "labelPadding": 28,
                "tickOpacity": {"condition": {"test": "datum.value == -10 || datum.value == 50", "value": 0}, "value": 1},
                "title": "Temperature (ºC)",
                "titleX": -100,
                "titleBaseline": "middle"
              }
            }
          }
        },
        {
          "mark": {"type": "point", "shape": "circle", "filled": true, "size": 361, "color": "#000000", "opacity": 1},
          "encoding": {
            "y": {"field": "m", "type": "quantitative", "axis": null}
          }
        },
        {
          "mark": {"type": "point", "shape": "triangle-down", "filled": true, "fill": "#ffffff", "stroke": "#000000", "strokeWidth": 2, "size": 270, "opacity": 1},
          "encoding": {
            "y": {
              "field": "n",
              "type": "quantitative",
              "axis": {"orient": "right", "labels": false, "ticks": false, "title": null}
            }
          }
        }
      ],
      "resolve": {"axis": {"y": "independent"}}
    },
    {
      "width": 1243,
      "height": 525,
      "layer": [
        {
          "data": {"name": "temp"},
          "transform": [{"filter": "isValid(datum.e)"}],
          "mark": {"type": "line", "color": "#138a13", "strokeWidth": 2},
          "encoding": {
            "x": {
              "field": "d",
              "type": "quantitative",
              "scale": {"domain": [0, 1150], "nice": false, "zero": false},
              "axis": {
                "orient": "bottom",
                "values": [0, 54.6, 115.6, 175.8, 235, 294.7, 355.3, 399.7, 458, 519.9, 580.1, 639.3, 699.4, 759.6, 800.3, 860.4, 920.5, 980.7, 1039.9, 1100, 1150],
                "labelExpr": "datum.value < 380 ? '' + round((datum.value + 5) / 60) * 60 : datum.value < 790 ? '' + round((datum.value - 399.7) / 60) * 60 : '' + round((datum.value - 800.3) / 60) * 60",
                "labelOffset": {"condition": [{"test": "datum.value == 0", "value": -5.5}, {"test": "datum.value == 1150", "value": 10}], "value": 0},
                "labelFlush": false,
                "labelOverlap": false,
                "labelBound": false,
                "labelPadding": 17,
                "ticks": false,
                "domain": false,
                "title": "DOY",
                "titleY": 87,
                "titleBaseline": "middle"
              }
            },
            "y": {
              "field": "e",
              "type": "quantitative",
              "scale": {"domain": [0, 43.4], "nice": false, "zero": false},
              "axis": {
                "orient": "left",
                "values": [0, 5, 10, 15, 20, 25, 30, 35, 40],
                "tickSize": -12,
                "labelPadding": 28,
                "title": "ETₒ (mm)",
                "titleX": -100,
                "titleBaseline": "middle"
              }
            }
          }
        },
        {
          "data": {"name": "rain"},
          "mark": {"type": "rule", "color": "#0000ff", "strokeWidth": 2.5},
          "encoding": {
            "x": {
              "field": "d",
              "type": "quantitative",
              "axis": {
                "orient": "bottom",
                "values": [0, 60, 120, 180, 240, 300, 360, 420, 480, 540, 600, 660, 720, 780, 840, 900, 960, 1020, 1080, 1140],
                "labels": false,
                "tickSize": -10,
                "title": null
              }
            },
            "y": {
              "field": "r",
              "type": "quantitative",
              "axis": {
                "orient": "right",
                "values": [0, 5, 10, 15, 20, 25, 30, 35, 40],
                "tickSize": -10,
                "labelPadding": 25,
                "title": "Rainfall (mm)",
                "titleAngle": 270,
                "titleX": 97,
                "titleBaseline": "middle"
              }
            },
            "y2": {"datum": 0}
          }
        }
      ],
      "resolve": {"axis": {"x": "independent", "y": "independent"}}
    }
  ]
}
